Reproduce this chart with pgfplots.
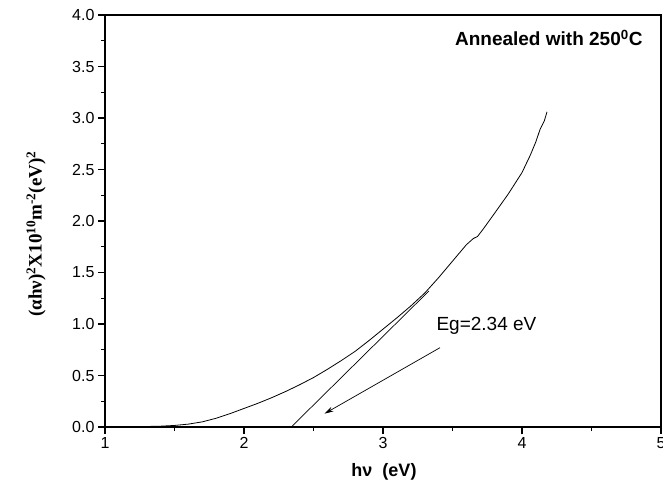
\documentclass[border=0pt]{standalone}
\usepackage{pgfplots}
\pgfplotsset{compat=1.18}
\usepackage{fontspec}
\setmainfont{Liberation Sans}
\newfontfamily\serifb{Liberation Serif}
\usetikzlibrary{arrows.meta}
\begin{document}
\begin{tikzpicture}
\begin{axis}[
  scale only axis,
  width=556pt, height=412pt,
  xmin=1, xmax=5, ymin=0, ymax=4,
  xtick={1,2,3,4,5}, ytick={0,0.5,...,4.0},
  minor x tick num=1, minor y tick num=1,
  tick align=outside,
  xtick pos=bottom, ytick pos=left,
  major tick length=7pt, minor tick length=4pt,
  axis line style={line width=1.1pt},
  every tick/.style={line width=1.1pt, black},
  tick label style={font=\fontsize{16}{18}\selectfont},
  /pgf/number format/assume math mode=true,
  yticklabel style={/pgf/number format/.cd, fixed, fixed zerofill, precision=1},
  xticklabel style={/pgf/number format/.cd, fixed, precision=0},
  clip=false,
]
\addplot[black, line width=0.8pt] coordinates {
(1.00,0) (1.20,0.002) (1.40,0.008) (1.50,0.015) (1.60,0.028) (1.70,0.05)
(1.80,0.085) (1.90,0.13) (2.00,0.18) (2.10,0.23) (2.20,0.285) (2.30,0.345)
(2.40,0.41) (2.50,0.48) (2.60,0.56) (2.70,0.645) (2.80,0.735) (2.90,0.84)
(3.00,0.95) (3.10,1.06) (3.20,1.175) (3.30,1.30) (3.40,1.45) (3.50,1.61)
(3.60,1.77) (3.65,1.83) (3.68,1.85) (3.72,1.92) (3.80,2.07) (3.90,2.26)
(4.00,2.47) (4.06,2.64) (4.10,2.77) (4.13,2.89) (4.16,2.97) (4.18,3.06)
};
\addplot[black, line width=0.7pt] coordinates {(2.34,0) (3.33,1.32)};
\addplot[black, line width=0.7pt, -{Stealth[length=9pt,width=5pt]}] coordinates {(3.41,0.77) (2.58,0.13)};
\end{axis}
\node[anchor=west, font=\fontsize{19}{21}\selectfont] at (328pt,101pt) {Eg=2.34 eV};
\node[anchor=east, font=\bfseries\fontsize{19}{21}\selectfont] at (541pt,389pt) {Annealed with 250\textsuperscript{0}C};
\node[font=\bfseries\fontsize{18}{20}\selectfont] at (279pt,-45pt) {hν\ \ (eV)};
\node[rotate=90, font=\serifb\bfseries\fontsize{19}{21}\selectfont] at (-69pt,193pt) {(αhν)\textsuperscript{2}X10\textsuperscript{10}m\textsuperscript{-2}(eV)\textsuperscript{2}};
\pgfresetboundingbox
\useasboundingbox (-105pt,-65pt) rectangle (558pt,427pt);
\end{tikzpicture}
\end{document}
